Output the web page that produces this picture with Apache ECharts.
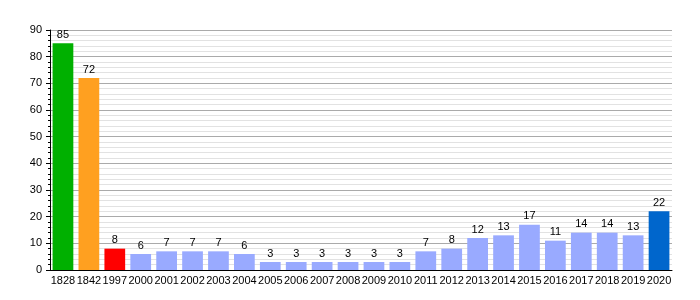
<!DOCTYPE html>
<html><head><meta charset="utf-8">
<script src="https://cdn.jsdelivr.net/npm/echarts@6/dist/echarts.min.js"></script>
<style>html,body{margin:0;padding:0;background:#fff}#c{width:700px;height:300px}</style>
</head><body><div id="c"></div>
<script>
const categories = ['1828','1842','1997','2000','2001','2002','2003','2004','2005','2006','2007','2008','2009','2010','2011','2012','2013','2014','2015','2016','2017','2018','2019','2020'];
const values = [85,72,8,6,7,7,7,6,3,3,3,3,3,3,7,8,12,13,17,11,14,14,13,22];
const colors = ['#00b000','#ffa020','#ff0000','#99aaff','#99aaff','#99aaff','#99aaff','#99aaff','#99aaff','#99aaff','#99aaff','#99aaff','#99aaff','#99aaff','#99aaff','#99aaff','#99aaff','#99aaff','#99aaff','#99aaff','#99aaff','#99aaff','#99aaff','#0066cc'];
const yTicks = [0,10,20,30,40,50,60,70,80,90];

const chart = echarts.init(document.getElementById('c'), null, {renderer:'canvas'});
chart.setOption({
  animation:false,
  grid:{left:50,right:28,top:30,bottom:30},
  textStyle:{fontFamily:'Liberation Sans, Arial, sans-serif'},
  xAxis:{type:'category',data:categories,
    axisLine:{lineStyle:{color:'#000',width:1}},
    axisTick:{show:false},
    axisLabel:{color:'#000',fontSize:11,margin:5,interval:0}},
  yAxis:{type:'value',min:yTicks[0],max:yTicks[yTicks.length-1],interval:10,
    axisLine:{show:true,lineStyle:{color:'#000'}},
    axisTick:{show:true,length:4,lineStyle:{color:'#000'}},
    minorTick:{show:true,splitNumber:5,length:2,lineStyle:{color:'#000'}},
    axisLabel:{color:'#000',fontSize:11,margin:8},
    splitLine:{show:true,lineStyle:{color:'#aaaaaa',width:1}},
    minorSplitLine:{show:true,lineStyle:{color:'#e2e2e2',width:1}}},
  series:[{type:'bar',barCategoryGap:'20%',
    data:values.map((v,i)=>({value:v,itemStyle:{color:colors[i]}})),
    label:{show:true,position:'top',color:'#000',fontSize:11,distance:3}}]
});
</script></body></html>
